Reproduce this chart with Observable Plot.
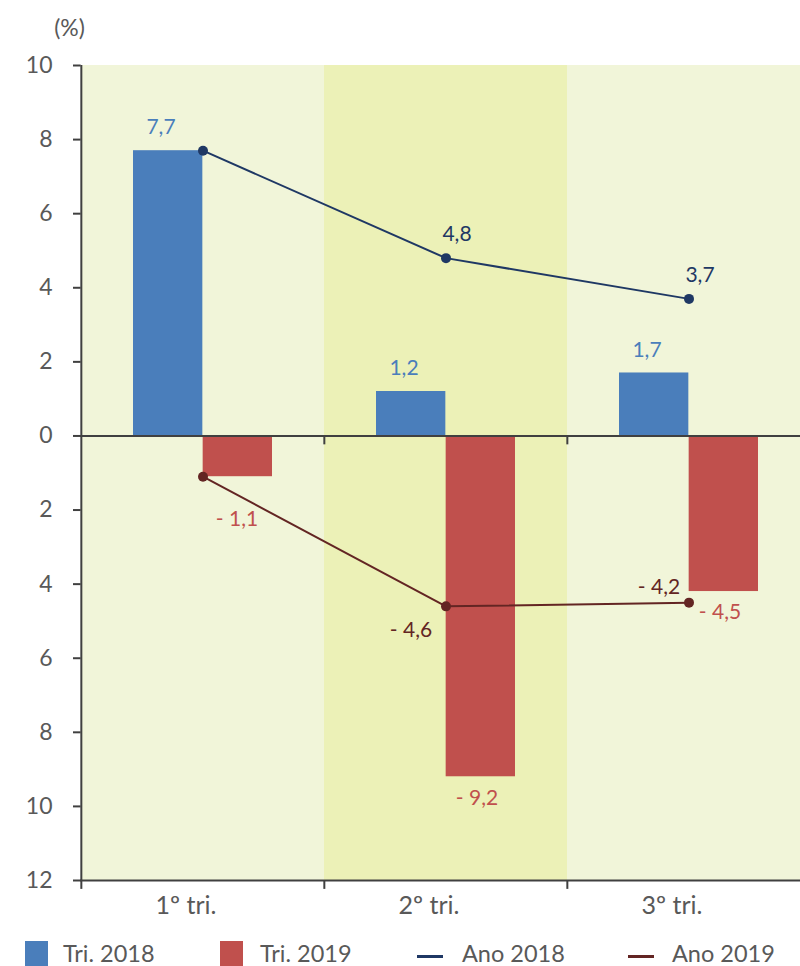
<!DOCTYPE html>
<html><head><meta charset="utf-8">
<script src="https://cdn.jsdelivr.net/npm/d3@7"></script>
<script src="https://cdn.jsdelivr.net/npm/@observablehq/plot@0.6"></script>
<style>
html,body{margin:0;padding:0;background:#fff;overflow:hidden;width:800px;height:966px}
#chart{position:relative;width:800px;height:966px;font-family:Lato,sans-serif}
#chart svg{display:block}
.leg{position:absolute;top:930px;left:0;width:800px;height:36px}
.sw{position:absolute;top:11px;width:23px;height:25px}
.ln{position:absolute;top:25px;width:26px;height:3px}
.lt{position:absolute;top:11px;font-size:23.5px;line-height:24px;height:24px;color:#595959;white-space:nowrap}
</style></head><body><div id="chart"></div>
<script>
const categories = ["1º tri.", "2º tri.", "3º tri."];
const tri2018 = [7.7, 1.2, 1.7];
const tri2019 = [-1.1, -9.2, -4.2];
const ano2018 = [7.7, 4.8, 3.7];
const ano2019 = [-1.1, -4.6, -4.5];
const tri2018Labels = ["7,7", "1,2", "1,7"];
const tri2019Labels = ["- 1,1", "- 9,2", "- 4,5"];
const ano2018Labels = ["", "4,8", "3,7"];
const ano2019Labels = ["", "- 4,6", "- 4,2"];
const yTicks = [10, 8, 6, 4, 2, 0, -2, -4, -6, -8, -10, -12];
const yTickLabels = ["10", "8", "6", "4", "2", "0", "2", "4", "6", "8", "10", "12"];
const unitLabel = "(%)";
const legendNames = ["Tri. 2018", "Tri. 2019", "Ano 2018", "Ano 2019"];

const C = {blue: "#4a7ebb", red: "#c0504d", navy: "#1f3864", maroon: "#632523",
  light: "#f1f5d9", mid: "#ecf1b7", axis: "#404040", text: "#595959"};

const rows = categories.map((cat, i) => ({
  cat, i, t18: tri2018[i], t19: tri2019[i], a18: ano2018[i], a19: ano2019[i],
  l18: tri2018Labels[i], l19: tri2019Labels[i], la18: ano2018Labels[i], la19: ano2019Labels[i]
}));
const yRows = yTicks.map((v, i) => ({v, label: yTickLabels[i]}));

const W = 800, H = 930;
const xRange = [80, 810];
const bw = (xRange[1] - xRange[0]) / categories.length;
const half = bw / 2;
const tick = 0.24;
const FS = "21px";
const AFS = "23px";

const chart = Plot.plot({
  width: W, height: H,
  marginLeft: 80, marginRight: 0, marginTop: 65, marginBottom: H - 880,
  style: {fontFamily: "Lato", fontSize: "21px", background: "#fff", overflow: "visible"},
  x: {type: "band", domain: categories, range: xRange, padding: 0, label: null, axis: null},
  y: {domain: [-12, 10], range: [880, 65], label: null, axis: null},
  marks: [
    Plot.barY(categories.filter((d, i) => i !== 1), {x: d => d, y1: -12, y2: 10, fill: C.light}),
    Plot.barY([categories[1]], {x: d => d, y1: -12, y2: 10, fill: C.mid}),
    Plot.barY(rows, {x: "cat", y1: 0, y2: "t18", fill: C.blue, insetLeft: 52, insetRight: half}),
    Plot.barY(rows, {x: "cat", y1: 0, y2: "t19", fill: C.red, insetLeft: half, insetRight: 52}),
    Plot.ruleY([0, -12], {stroke: C.axis, strokeWidth: 2}),
    Plot.ruleX([categories[0]], {x: d => d, dx: -half, y1: -12, y2: 10, stroke: C.axis, strokeWidth: 2}),
    Plot.ruleX(categories, {x: d => d, dx: -half, y1: -12, y2: -12 - tick, stroke: C.axis, strokeWidth: 2}),
    Plot.ruleX(categories.slice(1), {x: d => d, dx: -half, y1: 0, y2: -tick, stroke: C.axis, strokeWidth: 2}),
    Plot.tickY(yRows, {y: "v", x: () => categories[0], dx: -half - 4, insetLeft: bw / 2 - 4, insetRight: bw / 2 - 4, stroke: C.axis, strokeWidth: 2}),
    Plot.text(yRows, {y: "v", text: "label", frameAnchor: "left", textAnchor: "end", dx: -28, fill: C.text, fontSize: AFS}),
    Plot.text(categories, {x: d => d, text: d => d, frameAnchor: "bottom", lineAnchor: "top", dx: -17, dy: 16, fill: C.text, fontSize: "25px"}),
    Plot.line(rows, {x: "cat", y: "a18", stroke: C.navy, strokeWidth: 2}),
    Plot.dot(rows, {x: "cat", y: "a18", r: 5, fill: C.navy}),
    Plot.line(rows, {x: "cat", y: "a19", stroke: C.maroon, strokeWidth: 2}),
    Plot.dot(rows, {x: "cat", y: "a19", r: 5, fill: C.maroon}),
    Plot.text(rows, {x: "cat", y: "t18", text: "l18", dx: -42, dy: -23, fill: C.blue, fontSize: FS}),
    Plot.text(rows.filter(d => d.i > 0), {x: "cat", y: "t19", text: "l19", dx: 31, dy: 21, fill: C.red, fontSize: FS}),
    Plot.text(rows.filter(d => d.i === 0), {x: "cat", y: "t19", text: "l19", dx: 34, dy: 43, fill: C.red, fontSize: FS}),
    Plot.text(rows.filter(d => d.i > 0), {x: "cat", y: "a18", text: "la18", dx: 11, dy: -24, fill: C.navy, fontSize: FS}),
    Plot.text(rows.filter(d => d.i === 1), {x: "cat", y: "a19", text: "la19", dx: -35, dy: 24, fill: C.maroon, fontSize: FS}),
    Plot.text(rows.filter(d => d.i === 2), {x: "cat", y: "a19", text: "la19", dx: -30, dy: -15, fill: C.maroon, fontSize: FS}),
    Plot.text([unitLabel], {frameAnchor: "top-left", textAnchor: "middle", lineAnchor: "middle",
      dx: -11, dy: -37, fill: C.text, fontSize: AFS})
  ]
});

const root = document.getElementById("chart");
root.appendChild(chart);

const leg = document.createElement("div");
leg.className = "leg";
const legSpec = [
  {name: legendNames[0], kind: "sw", color: C.blue, mx: 25, tx: 63},
  {name: legendNames[1], kind: "sw", color: C.red, mx: 220, tx: 260},
  {name: legendNames[2], kind: "ln", color: C.navy, mx: 417, tx: 462},
  {name: legendNames[3], kind: "ln", color: C.maroon, mx: 628, tx: 672}
];
for (const s of legSpec) {
  const m = document.createElement("div");
  m.className = s.kind;
  m.style.left = s.mx + "px";
  m.style.background = s.color;
  leg.appendChild(m);
  const t = document.createElement("div");
  t.className = "lt";
  t.style.left = s.tx + "px";
  t.textContent = s.name;
  leg.appendChild(t);
}
root.appendChild(leg);
</script>
</body></html>
